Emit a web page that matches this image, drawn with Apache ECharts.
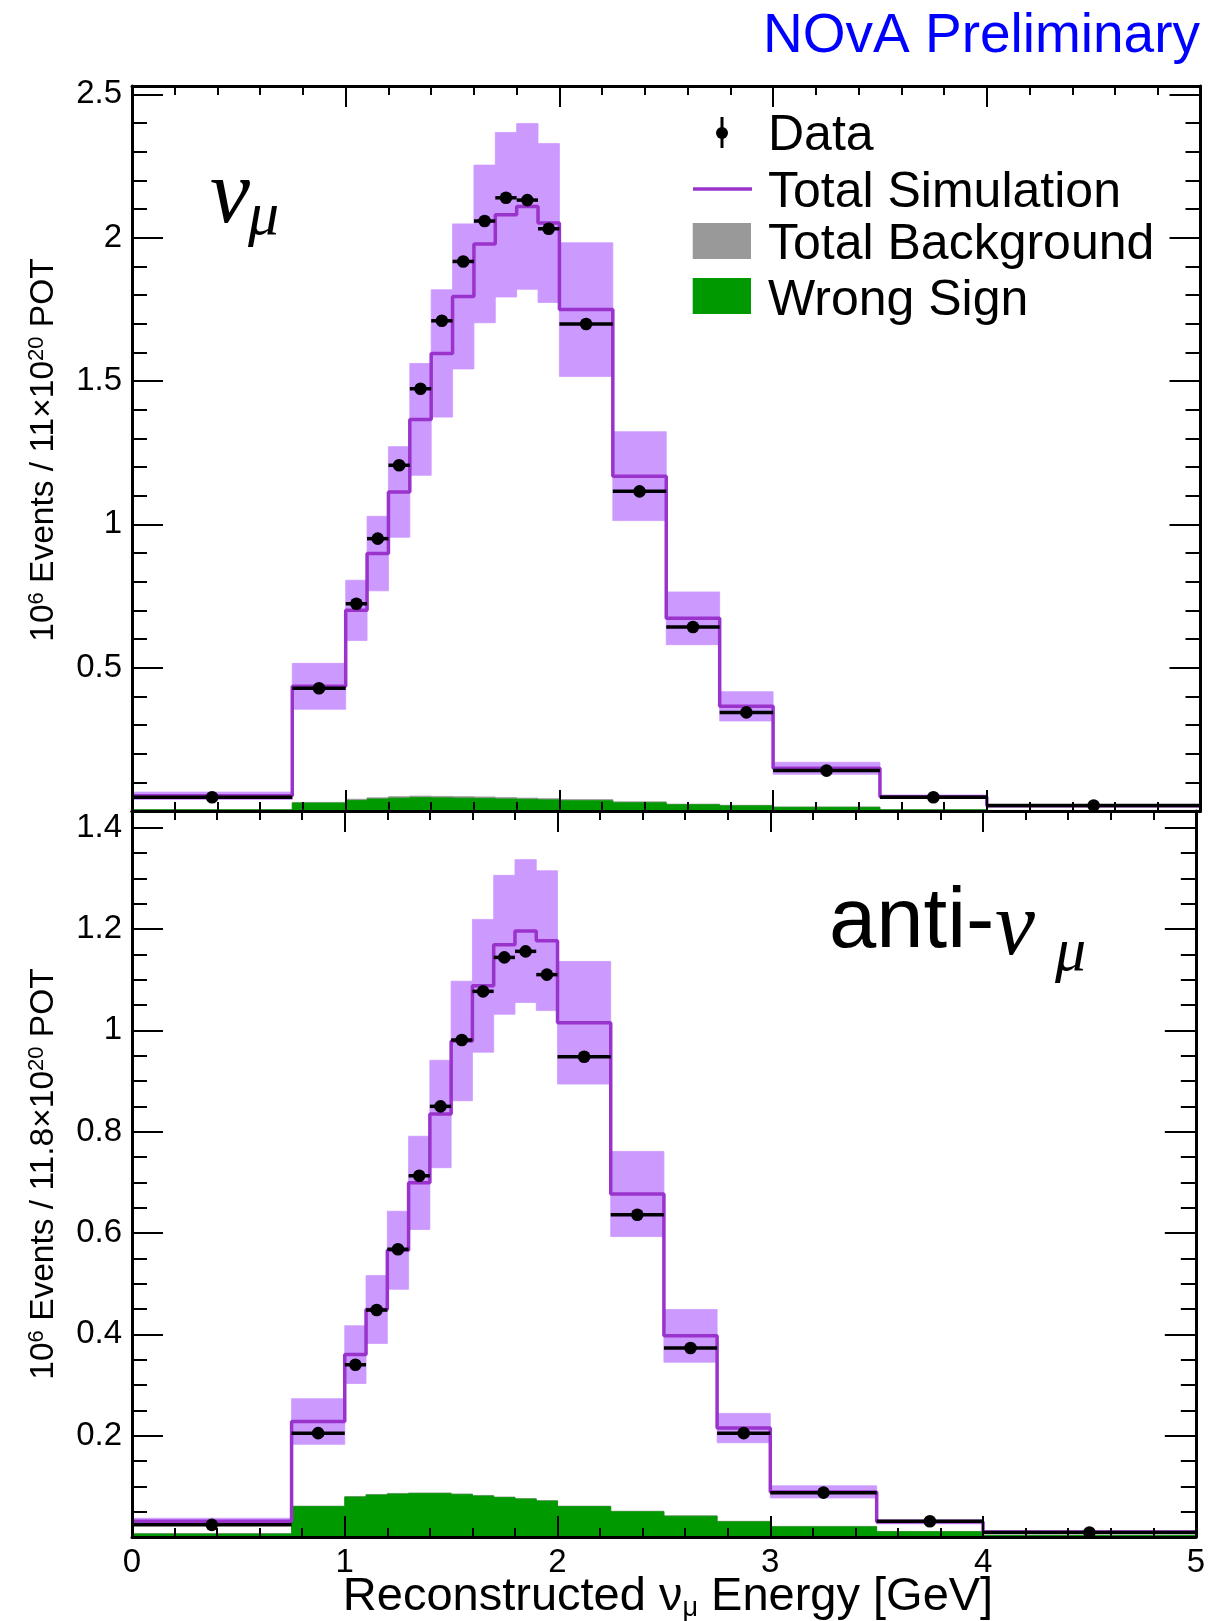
<!DOCTYPE html>
<html><head><meta charset="utf-8">
<script src="https://cdn.jsdelivr.net/npm/echarts@6/dist/echarts.min.js"></script>
<style>html,body{margin:0;padding:0;background:#fff}#c{width:1208px;height:1621px}</style>
</head><body><div id="c"></div>
<script>
// ---------------- data ----------------
const binEdges = [0, 0.75, 1.0, 1.1, 1.2, 1.3, 1.4, 1.5, 1.6, 1.7, 1.8, 1.9, 2.0, 2.25, 2.5, 2.75, 3.0, 3.5, 4.0, 5.0];
const xTicks = [0, 1, 2, 3, 4, 5];

// top panel: nu_mu
const numuData   = [0.048, 0.428, 0.723, 0.950, 1.206, 1.473, 1.710, 1.917, 2.058, 2.139, 2.131, 2.031, 1.699, 1.115, 0.642, 0.344, 0.141, 0.048, 0.019];
const numuSim    = [0.053, 0.435, 0.700, 0.898, 1.113, 1.366, 1.596, 1.795, 1.978, 2.080, 2.109, 2.051, 1.749, 1.168, 0.672, 0.365, 0.149, 0.050, 0.018];
const numuSimErr = [0.013, 0.080, 0.105, 0.130, 0.158, 0.195, 0.222, 0.253, 0.275, 0.287, 0.289, 0.277, 0.233, 0.155, 0.092, 0.051, 0.021, 0.006, 0.003];
const numuBkg    = [0.005, 0.030, 0.041, 0.046, 0.050, 0.052, 0.051, 0.050, 0.049, 0.047, 0.045, 0.043, 0.040, 0.032, 0.024, 0.020, 0.014, 0.005, 0.002];
const numuWS     = [0.004, 0.028, 0.037, 0.042, 0.045, 0.047, 0.046, 0.045, 0.044, 0.042, 0.041, 0.039, 0.036, 0.029, 0.022, 0.018, 0.013, 0.004, 0.001];

// bottom panel: anti-nu_mu
const anuData    = [0.024, 0.205, 0.340, 0.448, 0.568, 0.713, 0.850, 0.981, 1.077, 1.144, 1.156, 1.110, 0.948, 0.636, 0.373, 0.205, 0.0875, 0.031, 0.009];
const anuSim     = [0.031, 0.228, 0.360, 0.449, 0.566, 0.699, 0.835, 0.979, 1.088, 1.169, 1.196, 1.177, 1.015, 0.677, 0.397, 0.215, 0.089, 0.030, 0.010];
const anuSimErr  = [0.006, 0.045, 0.057, 0.067, 0.077, 0.092, 0.106, 0.118, 0.131, 0.137, 0.141, 0.138, 0.121, 0.084, 0.052, 0.029, 0.012, 0.004, 0.002];
const anuBkg     = [0.007, 0.061, 0.080, 0.084, 0.086, 0.087, 0.087, 0.085, 0.082, 0.079, 0.076, 0.072, 0.061, 0.051, 0.042, 0.031, 0.021, 0.011, 0.003];
const anuWS      = [0.006, 0.060, 0.079, 0.083, 0.085, 0.086, 0.086, 0.084, 0.081, 0.078, 0.075, 0.071, 0.060, 0.050, 0.041, 0.030, 0.020, 0.0105, 0.003];

const topYMax = 2.529, topYMajor = 0.5, topYMinor = 0.1;
const botYMax = 1.433, botYMajor = 0.2, botYMinor = 0.05;

// ---------------- style ----------------
const FONT = "'Liberation Sans', Arial, Helvetica, sans-serif";
const SERIF = "'Liberation Serif', 'Times New Roman', serif";
const C_BAND = '#cc99ff', C_SIM = '#9933cc', C_WS = '#009900', C_BKG = '#999999';

const chart = echarts.init(document.getElementById('c'), null, {renderer: 'canvas'});

function fmtTick(step) {
  return v => {
    const k = v / step;
    if (v <= 0 || Math.abs(k - Math.round(k)) > 1e-6) return '';
    return String(+v.toFixed(3));
  };
}
function xAx(grid, pos, labels) {
  return {type: 'value', gridIndex: grid, position: pos, min: xTicks[0], max: xTicks[xTicks.length - 1], interval: 1, z: 10,
    axisLine: {show: true, onZero: false, lineStyle: {color: '#000', width: 3}},
    axisTick: {show: true, inside: true, length: 21, lineStyle: {color: '#000', width: 2}},
    minorTick: {show: true, splitNumber: 5, length: 9, lineStyle: {color: '#000', width: 2}},
    splitLine: {show: false}, minorSplitLine: {show: false},
    axisLabel: {show: labels, fontSize: 33, color: '#000', fontFamily: FONT, margin: 9}};
}
function yAx(grid, pos, max, interval, len, labels, line) {
  return {type: 'value', gridIndex: grid, position: pos, min: 0, max: max, interval: interval, z: 10,
    axisLine: {show: line, onZero: false, lineStyle: {color: '#000', width: 3}},
    axisTick: {show: true, inside: true, length: len, lineStyle: {color: '#000', width: 2}},
    splitLine: {show: false},
    axisLabel: {show: labels, fontSize: 33, color: '#000', fontFamily: FONT, margin: 10, formatter: fmtTick(interval)}};
}

function rectSeries(lows, highs, color, xi, yi, z) {
  return {type: 'custom', xAxisIndex: xi, yAxisIndex: yi, z: z, silent: true,
    data: lows.map((lo, i) => [binEdges[i], binEdges[i + 1], lo, highs[i]]),
    encode: {x: [0, 1], y: [2, 3]},
    renderItem: (params, api) => {
      const p0 = api.coord([api.value(0), api.value(3)]);
      const p1 = api.coord([api.value(1), api.value(2)]);
      return {type: 'rect', shape: {x: p0[0], y: p0[1], width: p1[0] - p0[0], height: p1[1] - p0[1]},
        style: {fill: color, stroke: color, lineWidth: 0.8}};
    }};
}
function simLineSeries(sim, xi, yi) {
  const pts = sim.map((v, i) => [binEdges[i], v]);
  pts.push([binEdges[binEdges.length - 1], sim[sim.length - 1]]);
  return {type: 'line', xAxisIndex: xi, yAxisIndex: yi, z: 4, step: 'end', data: pts, symbol: 'none',
    silent: true, lineStyle: {color: C_SIM, width: 3.5}};
}
function dataSeries(vals, xi, yi) {
  return {type: 'custom', xAxisIndex: xi, yAxisIndex: yi, z: 5, silent: true,
    data: vals.map((v, i) => [binEdges[i], binEdges[i + 1], v]),
    encode: {x: [0, 1], y: 2},
    renderItem: (params, api) => {
      const a = api.coord([api.value(0), api.value(2)]);
      const b = api.coord([api.value(1), api.value(2)]);
      const c = api.coord([(api.value(0) + api.value(1)) / 2, api.value(2)]);
      return {type: 'group', children: [
        {type: 'line', shape: {x1: a[0], y1: a[1], x2: b[0], y2: b[1]}, style: {stroke: '#000', lineWidth: 3.5}},
        {type: 'circle', shape: {cx: c[0], cy: c[1], r: 6.3}, style: {fill: '#000'}}
      ]};
    }};
}
function panelSeries(data, sim, err, bkg, ws, xi, yi) {
  const zeros = bkg.map(() => 0);
  return [
    rectSeries(sim.map((v, i) => v - err[i]), sim.map((v, i) => v + err[i]), C_BAND, xi, yi, 1),
    rectSeries(zeros, bkg, C_BKG, xi, yi, 2),
    rectSeries(zeros, ws, C_WS, xi, yi, 3),
    simLineSeries(sim, xi, yi),
    dataSeries(data, xi, yi)
  ];
}

const L = 132, W = 1068.5;
const LEG = 50;
const option = {
  animation: false,
  backgroundColor: '#fff',
  grid: [
    {left: L, top: 86, width: W, height: 725},
    {left: L, top: 811, width: W, height: 726}
  ],
  xAxis: [xAx(0, 'bottom', false), xAx(0, 'top', false), xAx(1, 'bottom', true), xAx(1, 'top', false)],
  yAxis: [
    yAx(0, 'left', topYMax, topYMajor, 31, true, true),
    yAx(0, 'left', topYMax, topYMinor, 15, false, false),
    yAx(0, 'right', topYMax, topYMajor, 31, false, true),
    yAx(0, 'right', topYMax, topYMinor, 15, false, false),
    yAx(1, 'left', botYMax, botYMajor, 31, true, true),
    yAx(1, 'left', botYMax, botYMinor, 15, false, false),
    yAx(1, 'right', botYMax, botYMajor, 31, false, true),
    yAx(1, 'right', botYMax, botYMinor, 15, false, false)
  ],
  series: [].concat(
    panelSeries(numuData, numuSim, numuSimErr, numuBkg, numuWS, 0, 0),
    panelSeries(anuData, anuSim, anuSimErr, anuBkg, anuWS, 2, 4)
  ),
  graphic: [
    // header
    {type: 'text', x: 1200, y: 37, z: 20, style: {text: 'NOvA Preliminary', fill: '#0000ff', fontSize: 55, fontFamily: FONT, align: 'right', verticalAlign: 'middle'}},
    // legend
    {type: 'line', z: 20, shape: {x1: 722, y1: 117, x2: 722, y2: 148}, style: {stroke: '#000', lineWidth: 3}},
    {type: 'circle', z: 20, shape: {cx: 722, cy: 133, r: 6}, style: {fill: '#000'}},
    {type: 'text', x: 768, y: 136, z: 20, style: {text: 'Data', fill: '#000', fontSize: LEG, fontFamily: FONT, verticalAlign: 'middle'}},
    {type: 'line', z: 20, shape: {x1: 693, y1: 189, x2: 752, y2: 189}, style: {stroke: C_SIM, lineWidth: 3.5}},
    {type: 'text', x: 768, y: 193, z: 20, style: {text: 'Total Simulation', fill: '#000', fontSize: LEG, fontFamily: FONT, verticalAlign: 'middle'}},
    {type: 'rect', z: 20, shape: {x: 692.7, y: 223, width: 58.3, height: 36}, style: {fill: C_BKG}},
    {type: 'text', x: 768, y: 245, z: 20, style: {text: 'Total Background', fill: '#000', fontSize: LEG, fontFamily: FONT, verticalAlign: 'middle'}},
    {type: 'rect', z: 20, shape: {x: 692.7, y: 278, width: 58.3, height: 36}, style: {fill: C_WS}},
    {type: 'text', x: 768, y: 301, z: 20, style: {text: 'Wrong Sign', fill: '#000', fontSize: LEG, fontFamily: FONT, verticalAlign: 'middle'}},
    // panel labels
    {type: 'text', x: 210, y: 243, z: 20, style: {text: 'ν', fill: '#000', fontSize: 90, fontStyle: 'italic', fontFamily: SERIF, verticalAlign: 'bottom'}},
    {type: 'text', x: 248, y: 249, z: 20, style: {text: 'μ', fill: '#000', fontSize: 62, fontStyle: 'italic', fontFamily: SERIF, verticalAlign: 'bottom'}},
    {type: 'text', x: 829, y: 966, z: 20, style: {text: 'anti-', fill: '#000', fontSize: 85, fontFamily: FONT, verticalAlign: 'bottom'}},
    {type: 'text', x: 995, y: 975, z: 20, style: {text: 'ν', fill: '#000', fontSize: 90, fontStyle: 'italic', fontFamily: SERIF, verticalAlign: 'bottom'}},
    {type: 'text', x: 1055, y: 985, z: 20, style: {text: 'μ', fill: '#000', fontSize: 62, fontStyle: 'italic', fontFamily: SERIF, verticalAlign: 'bottom'}},
    // axis titles
    {type: 'text', x: 668, y: 1597, z: 20, style: {
      text: '{n|Reconstructed ν}{s|μ}{n| Energy [GeV]}', align: 'center', verticalAlign: 'middle',
      rich: {n: {fontSize: 47, lineHeight: 50, fontFamily: FONT, fill: '#000'},
             s: {fontSize: 27, lineHeight: 14, fontFamily: FONT, fill: '#000', verticalAlign: 'bottom'}}}},
    {type: 'text', x: 44, y: 450, rotation: Math.PI / 2, z: 20, style: {
      text: '{n|10}{p|6}{n| Events / 11×10}{p|20}{n| POT}', align: 'center', verticalAlign: 'middle',
      rich: {n: {fontSize: 33.5, lineHeight: 36, fontFamily: FONT, fill: '#000'},
             p: {fontSize: 22, lineHeight: 20, fontFamily: FONT, fill: '#000', verticalAlign: 'top'}}}},
    {type: 'text', x: 44, y: 1174, rotation: Math.PI / 2, z: 20, style: {
      text: '{n|10}{p|6}{n| Events / 11.8×10}{p|20}{n| POT}', align: 'center', verticalAlign: 'middle',
      rich: {n: {fontSize: 33.5, lineHeight: 36, fontFamily: FONT, fill: '#000'},
             p: {fontSize: 22, lineHeight: 20, fontFamily: FONT, fill: '#000', verticalAlign: 'top'}}}}
  ]
};
chart.setOption(option);
</script>
</body></html>
